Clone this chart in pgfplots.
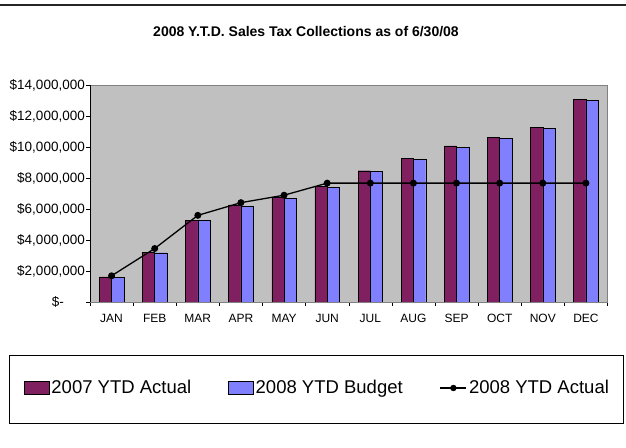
\documentclass[border=0pt]{standalone}
\usepackage{pgfplots}
\pgfplotsset{compat=1.18}
\usepackage{fontspec}
\setmainfont{Liberation Sans}
\definecolor{plum}{RGB}{128,32,96}
\definecolor{peri}{RGB}{128,128,255}
\definecolor{plotbg}{RGB}{192,192,192}
\begin{document}
\begin{tikzpicture}
\path[use as bounding box] (0pt,0pt) rectangle (626pt,447pt);
\draw[line width=1.5pt, black!85] (0pt,442pt) -- (626pt,442pt);
\node[font=\bfseries\fontsize{14}{16}\selectfont] at (306pt,415pt) {2008 Y.T.D. Sales Tax Collections as of 6/30/08};
\draw[line width=0.8pt] (9pt,24pt) rectangle (623pt,92pt);
\begin{axis}[
  at={(90pt,145pt)}, anchor=south west,
  scale only axis, width=517.5pt, height=217pt,
  xmin=-0.5, xmax=11.5, ymin=0, ymax=14000000,
  axis background/.style={fill=plotbg},
  axis line style={draw=gray},
  xtick={0,...,11},
  xticklabels={JAN,FEB,MAR,APR,MAY,JUN,JUL,AUG,SEP,OCT,NOV,DEC},
  major x tick style={draw=none},
  minor xtick={-0.5,0.5,...,11.5},
  minor x tick style={draw=black, thin},
  minor tick length=4pt,
  ytick={0,2000000,4000000,6000000,8000000,10000000,12000000,14000000},
  yticklabels={{\$-\hspace*{21pt}},{\$2,000,000},{\$4,000,000},{\$6,000,000},{\$8,000,000},{\$10,000,000},{\$12,000,000},{\$14,000,000}},
  major y tick style={draw=black, thin},
  major tick length=4pt,
  tick align=outside,
  tick pos=left,
  scaled y ticks=false,
  xticklabel style={font=\fontsize{12}{14}\selectfont, yshift=-5pt},
  yticklabel style={font=\fontsize{13.5}{15}\selectfont, inner sep=1pt},
  legend style={draw=none, fill=none, at={(axis description cs:0.4396,-0.3963)}, anchor=center,
    font=\fontsize{18.5}{22}\selectfont, inner sep=0pt,
    /tikz/every even column/.append style={column sep=35pt},
    /tikz/every odd column/.append style={column sep=0pt}},
  legend columns=3,
  legend cell align=left,
]
\addplot[draw=black, fill=plum, ybar, bar width=12.3pt, bar shift=-6.15pt,
  legend image code/.code={\draw[draw=black, fill=plum] (0pt,-6.5pt) rectangle (25pt,6.5pt);}]
  coordinates {(0,1620000) (1,3220000) (2,5290000) (3,6260000) (4,6760000) (5,7450000)
  (6,8470000) (7,9290000) (8,10070000) (9,10610000) (10,11280000) (11,13070000)};
\addlegendentry{2007 YTD Actual}
\addplot[draw=black, fill=peri, ybar, bar width=12.3pt, bar shift=6.15pt,
  legend image code/.code={\draw[draw=black, fill=peri] (0pt,-6.5pt) rectangle (25pt,6.5pt);}]
  coordinates {(0,1600000) (1,3180000) (2,5250000) (3,6200000) (4,6700000) (5,7410000)
  (6,8410000) (7,9200000) (8,9980000) (9,10540000) (10,11210000) (11,13000000)};
\addlegendentry{2008 YTD Budget}
\addplot[black, line width=1.3pt, mark=*, mark size=2.8pt, sharp plot,
  legend image code/.code={\draw[black, line width=1.3pt] (0pt,0pt) -- (26pt,0pt); \fill[black] (13pt,0pt) circle (2.5pt);}]
  coordinates {(0,1690000) (1,3450000) (2,5590000) (3,6410000) (4,6890000) (5,7670000)
  (6,7670000) (7,7670000) (8,7670000) (9,7670000) (10,7670000) (11,7670000)};
\addlegendentry{2008 YTD Actual}
\draw[black, thin] (rel axis cs:0,0) -- (rel axis cs:0,1);
\draw[black, thin] (rel axis cs:0,0) -- (rel axis cs:1,0);
\end{axis}
\end{tikzpicture}
\end{document}
